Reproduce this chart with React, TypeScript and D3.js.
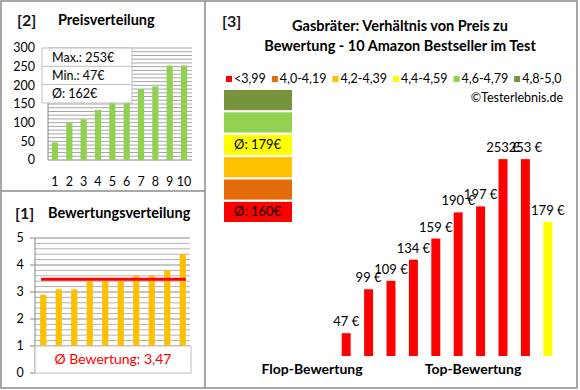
import React, { useEffect, useRef } from "react";
import * as d3 from "d3";

// [2] Preisverteilung
const priceRanks = ["1", "2", "3", "4", "5", "6", "7", "8", "9", "10"];
const pricesSorted = [47, 99, 109, 134, 159, 179, 190, 197, 253, 253];
const priceTicks = [0, 50, 100, 150, 200, 250, 300];

// [1] Bewertungsverteilung
const ratingsSorted = [2.9, 3.1, 3.1, 3.4, 3.4, 3.4, 3.6, 3.6, 3.8, 4.4];
const ratingTicks = [0, 1, 2, 3, 4, 5];

// [3] Preis vs. Bewertung
const barPrices = [47, 99, 109, 134, 159, 190, 197, 253, 253, 179];
const barClass = [0, 0, 0, 0, 0, 0, 0, 0, 0, 3];
const classLabels = ["<3,99", "4,0-4,19", "4,2-4,39", "4,4-4,59", "4,6-4,79", "4,8-5,0"];
const classColors = ["#FF0000", "#E46C0A", "#FFC000", "#FFFF00", "#92D050", "#77933C"];

const FONT = "Lato, 'Open Sans', sans-serif";

export default function App() {
  const ref = useRef<SVGSVGElement | null>(null);

  useEffect(() => {
    if (!ref.current) return;
    const svg = d3.select(ref.current);
    svg.selectAll("*").remove();
    svg.attr("font-family", FONT);

    // frame
    svg.append("rect").attr("x", 1).attr("y", 1).attr("width", 576).attr("height", 387)
      .attr("fill", "white").attr("stroke", "#8c8c8c").attr("stroke-width", 1.5);
    svg.append("line").attr("x1", 205).attr("x2", 205).attr("y1", 1).attr("y2", 388)
      .attr("stroke", "#8c8c8c").attr("stroke-width", 1.5);
    svg.append("line").attr("x1", 1).attr("x2", 205).attr("y1", 191).attr("y2", 191)
      .attr("stroke", "#8c8c8c").attr("stroke-width", 1.5);

    // ---------- [2] Preisverteilung ----------
    const g2 = svg.append("g");
    g2.append("text").attr("x", 17).attr("y", 26).attr("font-size", 16).attr("font-weight", "bold")
      .attr("fill", "#1a1a1a").text("[2]");
    g2.append("text").attr("x", 58).attr("y", 25).attr("font-size", 14.5).attr("font-weight", "bold")
      .attr("fill", "#000").text("Preisverteilung");

    const xP = d3.scaleBand<string>().domain(priceRanks).range([49, 190]).paddingInner(0.57).paddingOuter(0.2);
    const yP = d3.scaleLinear().domain([0, 300]).range([160, 48]);

    g2.selectAll("line.grid").data(d3.range(10, 301, 10)).join("line")
      .attr("x1", 48).attr("x2", 192).attr("y1", d => yP(d)).attr("y2", d => yP(d))
      .attr("stroke", "#a6a6a6").attr("stroke-width", 1);
    g2.append("line").attr("x1", 48).attr("x2", 48).attr("y1", yP(300)).attr("y2", yP(0))
      .attr("stroke", "#868686");
    g2.append("line").attr("x1", 48).attr("x2", 192).attr("y1", yP(0)).attr("y2", yP(0))
      .attr("stroke", "#868686");

    g2.selectAll("rect.bar").data(pricesSorted).join("rect")
      .attr("x", (d, i) => xP(priceRanks[i])!).attr("width", xP.bandwidth())
      .attr("y", d => yP(d)).attr("height", d => yP(0) - yP(d)).attr("fill", "#92D050");

    g2.selectAll("text.yl").data(priceTicks).join("text")
      .attr("x", 35).attr("y", d => yP(d)).attr("dy", "0.35em").attr("text-anchor", "end")
      .attr("font-size", 12.5).attr("fill", "#000").text(d => d);
    g2.selectAll("text.xl").data(priceRanks).join("text")
      .attr("x", d => xP(d)! + xP.bandwidth() / 2).attr("y", 182).attr("dy", "0.35em")
      .attr("text-anchor", "middle").attr("font-size", 12.5).attr("fill", "#000").text(d => d);

    const pMax = d3.max(pricesSorted)!;
    const pMin = d3.min(pricesSorted)!;
    const pAvg = Math.round(d3.mean(pricesSorted)!);
    const boxRows = [`Max.: ${pMax}€`, `Min.: ${pMin}€`, `Ø: ${pAvg}€`];
    g2.append("rect").attr("x", 42).attr("y", 48).attr("width", 90).attr("height", 55)
      .attr("fill", "white").attr("stroke", "#bfbfbf");
    g2.selectAll("line.sep").data([1, 2]).join("line")
      .attr("x1", 42).attr("x2", 132).attr("y1", d => 48 + d * 18.3).attr("y2", d => 48 + d * 18.3)
      .attr("stroke", "#bfbfbf");
    g2.selectAll("text.box").data(boxRows).join("text")
      .attr("x", 52).attr("y", (d, i) => 48 + 9.5 + i * 18).attr("dy", "0.35em")
      .attr("font-size", 12.5).attr("fill", "#000").text(d => d);

    // ---------- [1] Bewertungsverteilung ----------
    const g1 = svg.append("g");
    g1.append("text").attr("x", 15).attr("y", 219).attr("font-size", 16).attr("font-weight", "bold")
      .attr("fill", "#1a1a1a").text("[1]");
    g1.append("text").attr("x", 48).attr("y", 218).attr("font-size", 14.5).attr("font-weight", "bold")
      .attr("fill", "#000").text("Bewertungsverteilung");

    const xR = d3.scaleBand<string>().domain(priceRanks).range([35.5, 190.5]).paddingInner(0.6).paddingOuter(0.3);
    const yR = d3.scaleLinear().domain([0, 5]).range([373, 238]);

    g1.selectAll("line.grid").data(d3.range(1, 26).map(d => d / 5)).join("line")
      .attr("x1", 35).attr("x2", 190).attr("y1", d => yR(d)).attr("y2", d => yR(d))
      .attr("stroke", d => (Math.abs(d - Math.round(d)) < 1e-6 ? "#8c8c8c" : "#b3b3b3"));
    g1.append("line").attr("x1", 35).attr("x2", 35).attr("y1", yR(5)).attr("y2", yR(0))
      .attr("stroke", "#868686");
    g1.selectAll("line.tick").data(ratingTicks).join("line")
      .attr("x1", 30).attr("x2", 35).attr("y1", d => yR(d)).attr("y2", d => yR(d))
      .attr("stroke", "#868686");

    g1.selectAll("rect.bar").data(ratingsSorted).join("rect")
      .attr("x", (d, i) => xR(priceRanks[i])!).attr("width", xR.bandwidth())
      .attr("y", d => yR(d)).attr("height", d => yR(0) - yR(d)).attr("fill", "#FFC000");

    const rAvg = d3.mean(ratingsSorted)!;
    g1.append("line")
      .attr("x1", xR(priceRanks[0])! + 1).attr("x2", xR(priceRanks[9])! + xR.bandwidth())
      .attr("y1", yR(rAvg)).attr("y2", yR(rAvg)).attr("stroke", "#FF0000").attr("stroke-width", 3);

    g1.selectAll("text.yl").data(ratingTicks).join("text")
      .attr("x", 20).attr("y", d => yR(d)).attr("dy", "0.35em").attr("text-anchor", "middle")
      .attr("font-size", 12.5).attr("fill", "#000").text(d => d);

    g1.append("rect").attr("x", 35).attr("y", yR(1)).attr("width", 156).attr("height", yR(0) - yR(1))
      .attr("fill", "white").attr("stroke", "#bfbfbf");
    g1.append("text").attr("x", 113).attr("y", (yR(1) + yR(0)) / 2).attr("dy", "0.35em")
      .attr("text-anchor", "middle").attr("font-size", 14).attr("fill", "#FF0000")
      .text(`Ø Bewertung: ${rAvg.toFixed(2).replace(".", ",")}`);

    // ---------- [3] Verhältnis ----------
    const g3 = svg.append("g");
    g3.append("text").attr("x", 222).attr("y", 27).attr("font-size", 16).attr("font-weight", "bold")
      .attr("fill", "#1a1a1a").text("[3]");
    ["Gasbräter: Verhältnis von Preis zu", "Bewertung - 10 Amazon Bestseller im Test"].forEach((t, i) => {
      g3.append("text").attr("x", 400).attr("y", 31 + i * 20).attr("text-anchor", "middle")
        .attr("font-size", 14.5).attr("font-weight", "bold").attr("fill", "#000").text(t);
    });

    // legend
    let lx = 226;
    classLabels.forEach((lab, i) => {
      g3.append("rect").attr("x", lx).attr("y", 76).attr("width", 6).attr("height", 6)
        .attr("fill", classColors[i]);
      const t = g3.append("text").attr("x", lx + 8).attr("y", 79).attr("dy", "0.35em")
        .attr("font-size", 12.5).attr("fill", "#000").text(lab);
      const w = (t.node() as SVGTextElement).getComputedTextLength();
      lx += 8 + w + 6;
    });

    g3.append("text").attr("x", 563).attr("y", 98).attr("dy", "0.35em").attr("text-anchor", "end")
      .attr("font-size", 12.5).attr("fill", "#000").text("©Testerlebnis.de");

    // class averages
    const classIdx = d3.range(classLabels.length).reverse();
    const yBox = d3.scaleBand<number>().domain(classIdx).range([90, 222]).paddingInner(0.1);
    classIdx.forEach(ci => {
      g3.append("rect").attr("x", 224).attr("y", yBox(ci)!).attr("width", 68).attr("height", yBox.bandwidth())
        .attr("fill", classColors[ci]);
      const vals = barPrices.filter((p, i) => barClass[i] === ci);
      if (vals.length) {
        g3.append("text").attr("x", 234).attr("y", yBox(ci)! + yBox.bandwidth() / 2).attr("dy", "0.35em")
          .attr("font-size", 13).attr("fill", "#000").text(`Ø: ${Math.round(d3.mean(vals)!)}€`);
      }
    });

    const xB = d3.scaleBand<number>().domain(d3.range(barPrices.length)).range([335, 559])
      .paddingInner(0.6).paddingOuter(0.3);
    const yB = d3.scaleLinear().domain([20, 300]).range([356, 119.4]);

    g3.selectAll("rect.bar").data(barPrices).join("rect")
      .attr("x", (d, i) => xB(i)!).attr("width", xB.bandwidth())
      .attr("y", d => yB(d)).attr("height", d => yB(20) - yB(d))
      .attr("fill", (d, i) => classColors[barClass[i]]);
    g3.selectAll("text.val").data(barPrices).join("text")
      .attr("x", (d, i) => xB(i)! + xB.bandwidth() / 2).attr("y", d => yB(d) - 7)
      .attr("text-anchor", "middle").attr("font-size", 13).attr("fill", "#000").text(d => `${d} €`);

    g3.append("text").attr("x", 312).attr("y", 374).attr("text-anchor", "middle")
      .attr("font-size", 14).attr("font-weight", "bold").attr("fill", "#000").text("Flop-Bewertung");
    g3.append("text").attr("x", 473).attr("y", 374).attr("text-anchor", "middle")
      .attr("font-size", 14).attr("font-weight", "bold").attr("fill", "#000").text("Top-Bewertung");
  }, []);

  return (
    <svg
      ref={ref}
      width={580}
      height={390}
      style={{ position: "absolute", left: 0, top: 0, display: "block" }}
    />
  );
}
